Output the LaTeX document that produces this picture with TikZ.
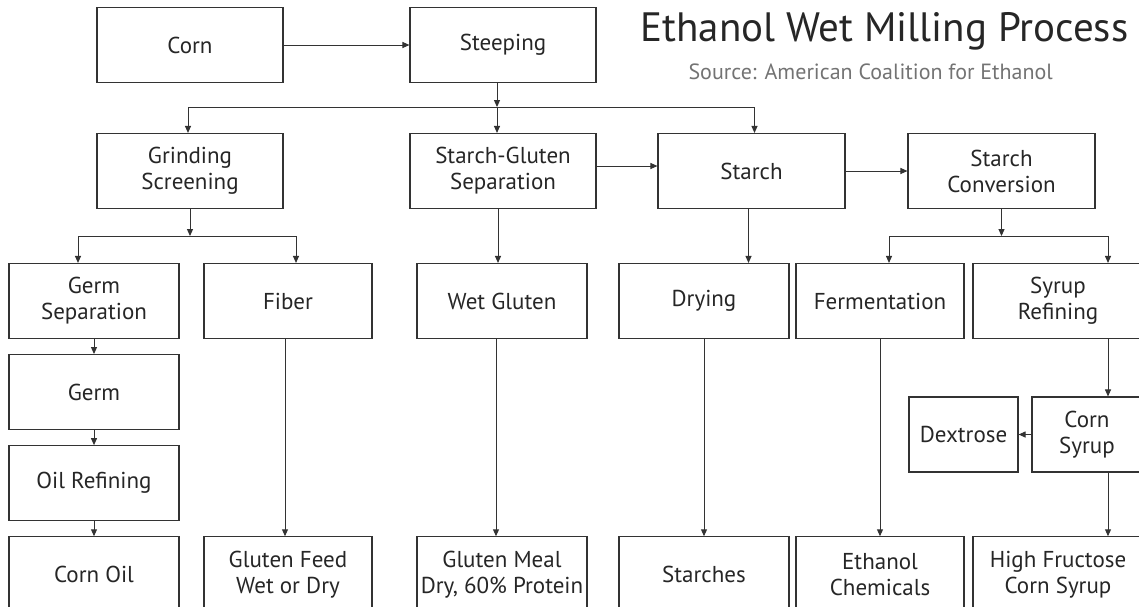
\documentclass[tikz,border=0pt]{standalone}
\usepackage{fontspec}
\setmainfont{PT Sans}
\usetikzlibrary{positioning, arrows.meta, calc}

\begin{document}
\begin{tikzpicture}[x=1pt, y=-1pt,
    proc/.style={draw=black!80, line width=1.1pt, align=center, inner sep=1pt,
      minimum width=170pt, minimum height=75pt, text=black!85,
      font=\fontsize{23}{26}\selectfont},
    wide/.style={proc, minimum width=186pt},
    flow/.style={->, line width=1pt, draw=black!80},
    >={Triangle[length=7pt, width=6pt]}]

\useasboundingbox (0,0) rectangle (1139,606);

% Titel
\node[anchor=base west, text=black!85, font=\fontsize{41}{44}\selectfont] (title) at (637,41) {Ethanol Wet Milling Process};
\node[anchor=base west, text=black!55, font=\fontsize{22}{24}\selectfont] (src) at (685,79) {Source: American Coalition for Ethanol};

% Obere Reihen
\node[wide] (corn) at (190,45) {Corn};
\node[wide] (steep) at (503,45) {Steeping};
\node[wide] (grind) at (190,171) {Grinding\\Screening};
\node[wide] (sgsep) at (503,171) {Starch-Gluten\\Separation};
\node[wide, minimum width=187pt] (starch) at (751.5,171) {Starch};
\node[wide, minimum width=187pt] (sconv) at (1001.5,171) {Starch\\Conversion};

% Mittlere Reihe
\node[proc] (germsep) at (94,301) {Germ\\Separation};
\node[proc, minimum width=168pt] (fiber) at (288,301) {Fiber};
\node[proc] (wetgl) at (502,301) {Wet Gluten};
\node[proc] (drying) at (704,301) {Drying};
\node[proc, minimum width=168pt] (ferm) at (880,301) {Fermentation};
\node[proc] (syrref) at (1058,301) {Syrup\\Refining};

\node[proc, below=15pt of germsep] (germ) {Germ};
\node[proc, below=15pt of germ] (oilref) {Oil Refining};
\node[proc, minimum width=109pt] (dextrose) at (963.5,434.5) {Dextrose};
\node[proc, minimum width=110pt] (cornsyr) at (1087,434.5) {Corn\\Syrup};

% Untere Reihe
\node[proc, below=15pt of oilref, minimum height=76pt] (cornoil) {Corn Oil};
\node[proc, minimum width=168pt, minimum height=76pt] (glfeed) at (fiber |- cornoil) {Gluten Feed\\Wet or Dry};
\node[proc, minimum height=76pt] (glmeal) at (wetgl |- cornoil) {Gluten Meal\\Dry, 60\% Protein};
\node[proc, minimum height=76pt] (starches) at (drying |- cornoil) {Starches};
\node[proc, minimum width=168pt, minimum height=76pt] (ethchem) at (ferm |- cornoil) {Ethanol\\Chemicals};
\node[proc, minimum height=76pt] (hfcs) at (syrref |- cornoil) {High Fructose\\Corn Syrup};

% Verzweigungen
\coordinate (s1) at ($(steep.south)+(-6,24)$);
\coordinate (g1) at ($(grind.south)+(0,27)$);
\coordinate (c1) at ($(sconv.south)+(0,27)$);

% Pfeile
\draw[flow] (corn) -- (steep);
\draw[flow] ([xshift=-6pt]steep.south) -- (s1);
\draw[flow] (s1) -| ([xshift=-2pt]grind.north);
\draw[flow] (s1) -- (s1 |- sgsep.north);
\draw[flow] (s1) -| ([xshift=3pt]starch.north);
\draw[flow] ([yshift=5pt]sgsep.east) -- ([yshift=5pt]sgsep.east -| starch.west);
\draw[flow] (starch) -- (sconv);

\draw[flow] (grind) -- (g1);
\draw[flow] (g1) -| ([xshift=-16pt]germsep.north);
\draw[flow] (g1) -| ([xshift=8pt]fiber.north);
\draw[flow] (sconv) -- (c1);
\draw[flow] (c1) -| ([xshift=9pt]ferm.north);
\draw[flow] (c1) -| ([xshift=50pt]syrref.north);

\draw[flow] ([xshift=-5pt]sgsep.south) -- ([xshift=-5pt]sgsep.south |- wetgl.north);
\draw[flow] ([xshift=-3pt]starch.south) -- ([xshift=-3pt]starch.south |- drying.north);

\draw[flow] (germsep) -- (germ);
\draw[flow] (germ) -- (oilref);
\draw[flow] (oilref) -- (cornoil);
\draw[flow] ([xshift=-3pt]fiber.south) -- ([xshift=-3pt]glfeed.north);
\draw[flow] ([xshift=-6pt]wetgl.south) -- ([xshift=-6pt]glmeal.north);
\draw[flow] (drying) -- (starches);
\draw[flow] (ferm) -- (ethchem);
\draw[flow] ([xshift=50pt]syrref.south) -- ([xshift=50pt]syrref.south |- cornsyr.north);
\draw[flow] (cornsyr) -- (dextrose);
\draw[flow] ([xshift=21pt]cornsyr.south) -- ([xshift=50pt]hfcs.north);

\end{tikzpicture}
\end{document}
